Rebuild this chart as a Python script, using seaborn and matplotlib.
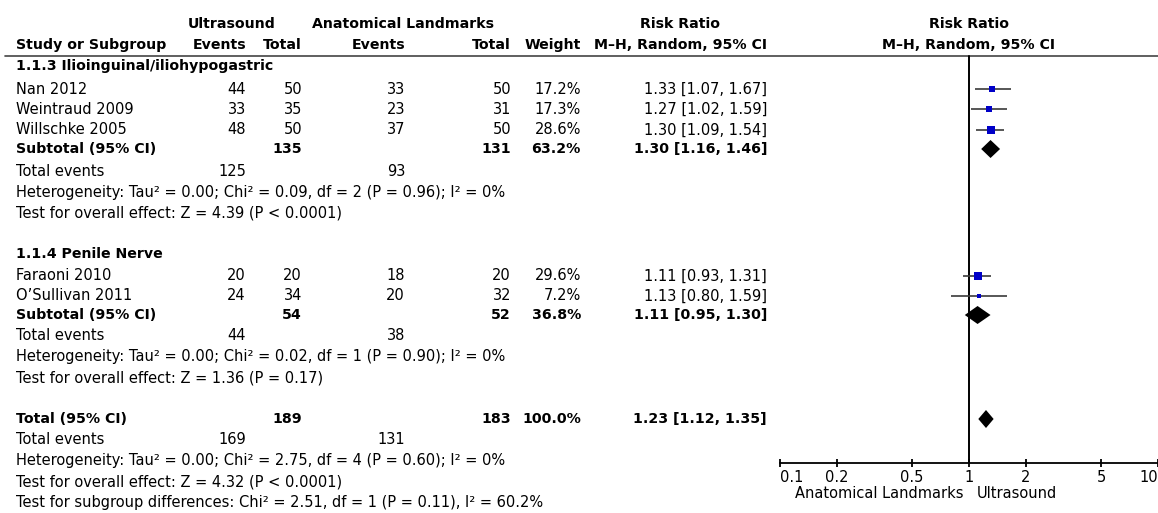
import numpy as np
import pandas as pd
import matplotlib
matplotlib.use("Agg")
import matplotlib.pyplot as plt
import seaborn as sns

# ---------------- data ----------------
studies = ["Nan 2012", "Weintraud 2009", "Willschke 2005", "Faraoni 2010", "O\u2019Sullivan 2011"]
study_group = [0, 0, 0, 1, 1]
us_events = [44, 33, 48, 20, 24]
us_total = [50, 35, 50, 20, 34]
al_events = [33, 23, 37, 18, 20]
al_total = [50, 31, 50, 20, 32]
weights = [17.2, 17.3, 28.6, 29.6, 7.2]
rr = [1.33, 1.27, 1.30, 1.11, 1.13]
rr_lo = [1.07, 1.02, 1.09, 0.93, 0.80]
rr_hi = [1.67, 1.59, 1.54, 1.31, 1.59]

groups = ["1.1.3 Ilioinguinal/iliohypogastric", "1.1.4 Penile Nerve"]
sub_us_total = [135, 54]
sub_al_total = [131, 52]
sub_weight = [63.2, 36.8]
sub_rr = [1.30, 1.11]
sub_lo = [1.16, 0.95]
sub_hi = [1.46, 1.30]
sub_us_events = [125, 44]
sub_al_events = [93, 38]
sub_het = ["Heterogeneity: Tau\u00b2 = 0.00; Chi\u00b2 = 0.09, df = 2 (P = 0.96); I\u00b2 = 0%",
           "Heterogeneity: Tau\u00b2 = 0.00; Chi\u00b2 = 0.02, df = 1 (P = 0.90); I\u00b2 = 0%"]
sub_effect = ["Test for overall effect: Z = 4.39 (P < 0.0001)",
              "Test for overall effect: Z = 1.36 (P = 0.17)"]

tot_us_total, tot_al_total, tot_weight = 189, 183, 100.0
tot_rr, tot_lo, tot_hi = 1.23, 1.12, 1.35
tot_us_events, tot_al_events = 169, 131
tot_het = "Heterogeneity: Tau\u00b2 = 0.00; Chi\u00b2 = 2.75, df = 4 (P = 0.60); I\u00b2 = 0%"
tot_effect = "Test for overall effect: Z = 4.32 (P < 0.0001)"
tot_subdiff = "Test for subgroup differences: Chi\u00b2 = 2.51, df = 1 (P = 0.11), I\u00b2 = 60.2%"

xticks = [0.1, 0.2, 0.5, 1, 2, 5, 10]
xticklabels = ["0.1", "0.2", "0.5", "1", "2", "5", "10"]
favours_left = "Anatomical Landmarks"
favours_right = "Ultrasound"

# ---------------- layout (pixels) ----------------
W, H = 1158, 513
FS = 10.5      # regular text
FSB = 10.2     # bold text
X_LABEL = 16
X_USE, X_UST, X_ALE, X_ALT, X_W, X_RR = 246, 302, 405, 511, 581, 767

y_hdr1, y_hdr2, y_rule = 24, 45, 56
y_group = [66, 254]
y_study = [89, 109, 130, 276, 296]
y_sub = [149, 315]
y_subev = [171, 336]
y_subhet = [192, 357]
y_subeff = [213, 378]
y_tot, y_totev, y_tothet, y_toteff, y_totdiff = 419, 440, 461, 482, 502
AX_BOTTOM = 463
PLOT_L, PLOT_R = 780, 1158
PLOT_C = 969

sns.set_theme(style="white")
plt.rcParams['font.family'] = ['DejaVu Sans']
plt.rcParams['text.color'] = 'black'

fig = plt.figure(figsize=(W / 100, H / 100), dpi=100)
tax = fig.add_axes([0, 0, 1, 1])
tax.set_xlim(0, W)
tax.set_ylim(H, 0)
tax.axis("off")

def txt(x, y, s, ha="left", bold=False):
    tax.text(x, y, s, ha=ha, va="center", fontsize=FSB if bold else FS,
             fontweight="bold" if bold else "normal", color="black")

# headers
txt(232, y_hdr1, "Ultrasound", ha="center", bold=True)
txt(403, y_hdr1, "Anatomical Landmarks", ha="center", bold=True)
txt(680, y_hdr1, "Risk Ratio", ha="center", bold=True)
txt(PLOT_C, y_hdr1, "Risk Ratio", ha="center", bold=True)
txt(X_LABEL, y_hdr2, "Study or Subgroup", bold=True)
txt(X_USE, y_hdr2, "Events", ha="right", bold=True)
txt(X_UST, y_hdr2, "Total", ha="right", bold=True)
txt(X_ALE, y_hdr2, "Events", ha="right", bold=True)
txt(X_ALT, y_hdr2, "Total", ha="right", bold=True)
txt(X_W, y_hdr2, "Weight", ha="right", bold=True)
txt(X_RR, y_hdr2, "M\u2013H, Random, 95% CI", ha="right", bold=True)
txt(PLOT_C, y_hdr2, "M\u2013H, Random, 95% CI", ha="center", bold=True)
tax.plot([5, W], [y_rule, y_rule], color="#444444", lw=1.2)

for g in range(len(groups)):
    txt(X_LABEL, y_group[g], groups[g], bold=True)
    for i in range(len(studies)):
        if study_group[i] != g:
            continue
        y = y_study[i]
        txt(X_LABEL, y, studies[i])
        txt(X_USE, y, str(us_events[i]), ha="right")
        txt(X_UST, y, str(us_total[i]), ha="right")
        txt(X_ALE, y, str(al_events[i]), ha="right")
        txt(X_ALT, y, str(al_total[i]), ha="right")
        txt(X_W, y, f"{weights[i]:.1f}%", ha="right")
        txt(X_RR, y, f"{rr[i]:.2f} [{rr_lo[i]:.2f}, {rr_hi[i]:.2f}]", ha="right")
    y = y_sub[g]
    txt(X_LABEL, y, "Subtotal (95% CI)", bold=True)
    txt(X_UST, y, str(sub_us_total[g]), ha="right", bold=True)
    txt(X_ALT, y, str(sub_al_total[g]), ha="right", bold=True)
    txt(X_W, y, f"{sub_weight[g]:.1f}%", ha="right", bold=True)
    txt(X_RR, y, f"{sub_rr[g]:.2f} [{sub_lo[g]:.2f}, {sub_hi[g]:.2f}]", ha="right", bold=True)
    txt(X_LABEL, y_subev[g], "Total events")
    txt(X_USE, y_subev[g], str(sub_us_events[g]), ha="right")
    txt(X_ALE, y_subev[g], str(sub_al_events[g]), ha="right")
    txt(X_LABEL, y_subhet[g], sub_het[g])
    txt(X_LABEL, y_subeff[g], sub_effect[g])

txt(X_LABEL, y_tot, "Total (95% CI)", bold=True)
txt(X_UST, y_tot, str(tot_us_total), ha="right", bold=True)
txt(X_ALT, y_tot, str(tot_al_total), ha="right", bold=True)
txt(X_W, y_tot, f"{tot_weight:.1f}%", ha="right", bold=True)
txt(X_RR, y_tot, f"{tot_rr:.2f} [{tot_lo:.2f}, {tot_hi:.2f}]", ha="right", bold=True)
txt(X_LABEL, y_totev, "Total events")
txt(X_USE, y_totev, str(tot_us_events), ha="right")
txt(X_ALE, y_totev, str(tot_al_events), ha="right")
txt(X_LABEL, y_tothet, tot_het)
txt(X_LABEL, y_toteff, tot_effect)
txt(X_LABEL, y_totdiff, tot_subdiff)

# ---------------- forest axes ----------------
fax = fig.add_axes([PLOT_L / W, (H - AX_BOTTOM) / H, (PLOT_R - PLOT_L) / W, AX_BOTTOM / H])
fax.patch.set_alpha(0)
fax.set_xscale("log")
fax.set_xlim(0.1, 10)
fax.set_ylim(AX_BOTTOM, 0)
for s in ["top", "right", "left"]:
    fax.spines[s].set_visible(False)
fax.spines["bottom"].set_color("black")
fax.spines["bottom"].set_linewidth(1.3)
fax.set_yticks([])
fax.set_xticks(xticks)
fax.set_xticklabels(xticklabels)
fax.minorticks_off()
fax.tick_params(axis="x", direction="inout", length=6, width=1.3, color="black",
                labelsize=FS, labelcolor="black", pad=2, bottom=True)
tl = fax.get_xticklabels()
tl[0].set_ha("left")
tl[-1].set_ha("right")

# line of no effect
fax.plot([1, 1], [y_rule, AX_BOTTOM], color="black", lw=1.4, zorder=1)

df = pd.DataFrame({"rr": rr, "lo": rr_lo, "hi": rr_hi, "w": weights, "y": y_study})
fax.hlines(df["y"], df["lo"], df["hi"], color="#3a3a3a", lw=1.2, zorder=2)
sns.scatterplot(data=df, x="rr", y="y", size="w", size_norm=(min(weights), max(weights)),
                sizes=(min(weights) * 1.15, max(weights) * 1.15), marker="s",
                color="#0000C8", edgecolor="none", legend=False, ax=fax, zorder=3)
fax.set_xlabel("")
fax.set_ylabel("")

DH = 9
for est, lo, hi, y in zip(sub_rr + [tot_rr], sub_lo + [tot_lo], sub_hi + [tot_hi], y_sub + [y_tot]):
    fax.fill([lo, est, hi, est], [y, y - DH, y, y + DH], color="black", lw=0, zorder=3)

fax.text(0.94, 494, favours_left, ha="right", va="center", fontsize=FS,
         color="black", transform=fax.transData, clip_on=False)
fax.text(1.10, 494, favours_right, ha="left", va="center", fontsize=FS,
         color="black", transform=fax.transData, clip_on=False)

fig.savefig("out.png", dpi=100)
